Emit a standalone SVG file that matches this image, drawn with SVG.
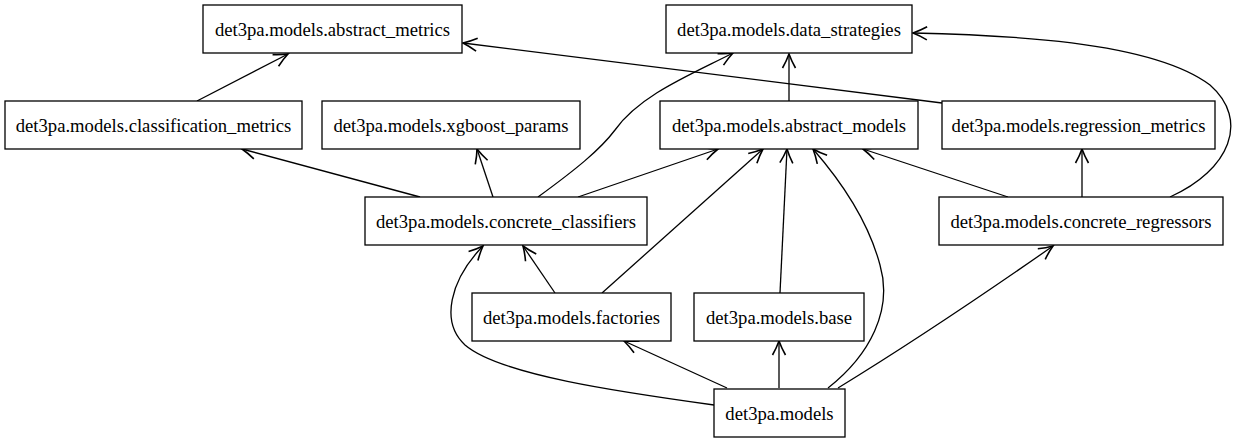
<svg xmlns="http://www.w3.org/2000/svg" width="1244" height="443" viewBox="0 0 1244 443">
<style>
.n rect{fill:#fff;stroke:#000;stroke-width:1.3}
.n text{font-family:"Liberation Serif","Times New Roman",serif;font-size:18.67px;text-anchor:middle;fill:#000}
#edges path{fill:none;stroke:#000;stroke-width:1.3;marker-end:url(#arr)}
</style>
<defs>
<marker id="arr" markerUnits="userSpaceOnUse" viewBox="-16 -9 18 18" refX="0" refY="0" markerWidth="18" markerHeight="18" orient="auto">
<path d="M-14,-6.5 Q-7,-2.5 0,0 Q-7,2.5 -14,6.5" fill="none" stroke="#000" stroke-width="1.6"/>
</marker>
</defs>
<rect width="1244" height="443" fill="#fff"/>
<g id="edges">
<path d="M197,101 L288,54"/>
<path d="M942,103 L463,43"/>
<path d="M789,101 L789,54"/>
<path d="M420,197 L242,149"/>
<path d="M493,197 L477,149"/>
<path d="M538,197 C575,170 600,150 615,130 C640,95 690,75 733,53"/>
<path d="M578,197 L718,149"/>
<path d="M555,293 L523,246"/>
<path d="M602,293 L763,149"/>
<path d="M780,293 L787,149"/>
<path d="M714,405 C620,392 500,375 465,345 C440,322 450,280 483,246"/>
<path d="M727,388 L624,341"/>
<path d="M779,388 L779,341"/>
<path d="M828,388 C870,355 893,310 880,265 C868,220 840,180 813,149"/>
<path d="M838,388 C900,350 990,290 1053,246"/>
<path d="M1008,197 L863,149"/>
<path d="M1082,197 L1082,149"/>
<path d="M1170,197 C1230,170 1250,120 1210,85 C1150,40 1000,35 913,33"/>
</g>
<g id="abstract_metrics" class="n"><rect x="203" y="5" width="259" height="48"/><text x="332.5" y="36">det3pa.models.abstract_metrics</text></g>
<g id="data_strategies" class="n"><rect x="666" y="5" width="246" height="48"/><text x="789" y="36">det3pa.models.data_strategies</text></g>
<g id="classification_metrics" class="n"><rect x="5" y="101" width="297" height="48"/><text x="153.5" y="132">det3pa.models.classification_metrics</text></g>
<g id="xgboost_params" class="n"><rect x="322" y="101" width="258" height="48"/><text x="451" y="132">det3pa.models.xgboost_params</text></g>
<g id="abstract_models" class="n"><rect x="660" y="101" width="258" height="48"/><text x="789" y="132">det3pa.models.abstract_models</text></g>
<g id="regression_metrics" class="n"><rect x="942" y="101" width="273" height="48"/><text x="1078.5" y="132">det3pa.models.regression_metrics</text></g>
<g id="concrete_classifiers" class="n"><rect x="365" y="197" width="282" height="48"/><text x="506" y="228">det3pa.models.concrete_classifiers</text></g>
<g id="concrete_regressors" class="n"><rect x="939" y="197" width="284" height="48"/><text x="1081" y="228">det3pa.models.concrete_regressors</text></g>
<g id="factories" class="n"><rect x="472" y="293" width="199" height="48"/><text x="571.5" y="324">det3pa.models.factories</text></g>
<g id="base" class="n"><rect x="694" y="293" width="170" height="48"/><text x="779" y="324">det3pa.models.base</text></g>
<g id="models" class="n"><rect x="714" y="389" width="131" height="48"/><text x="779.5" y="420">det3pa.models</text></g>
</svg>
